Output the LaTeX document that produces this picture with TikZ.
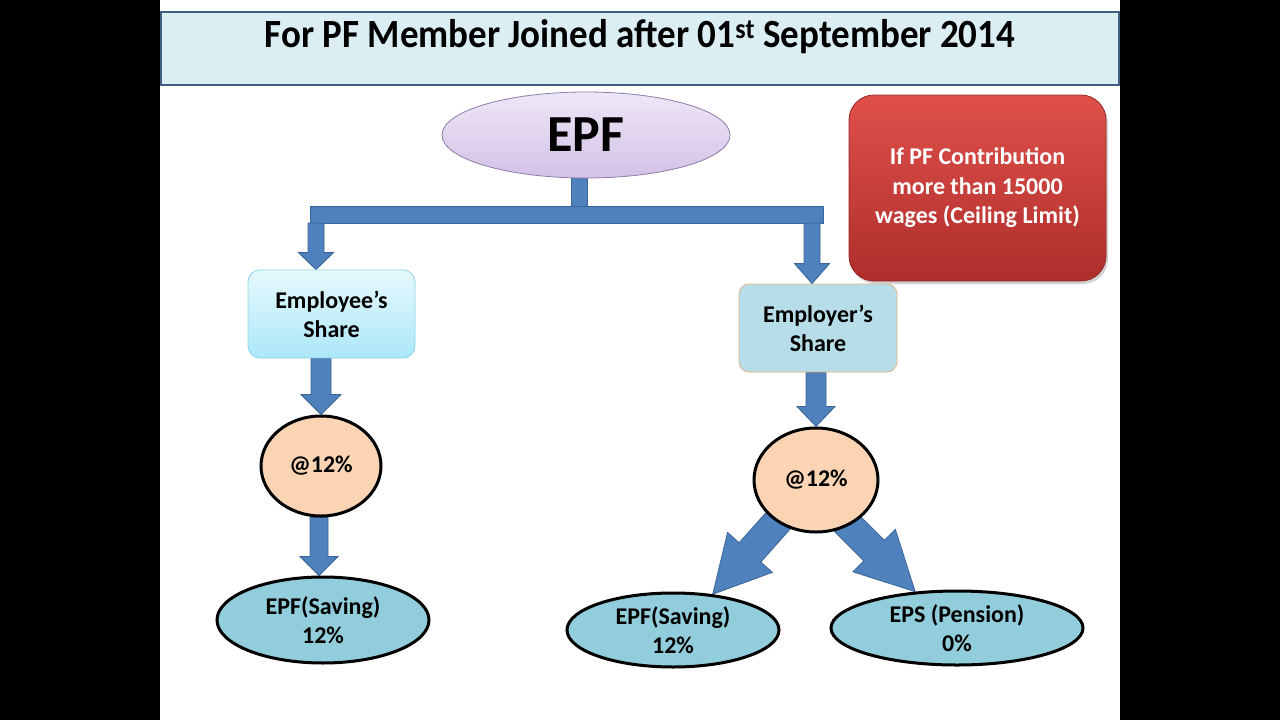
\documentclass[tikz,border=0pt]{standalone}
\usepackage{fontspec}
\setmainfont{Carlito}
\usetikzlibrary{shapes.geometric,calc,shadows}
\pgfdeclarelayer{bg}
\pgfdeclarelayer{canvas}
\pgfsetlayers{canvas,bg,main}
\definecolor{titlefill}{HTML}{DBEEF4}
\definecolor{titledraw}{HTML}{3E5F7E}
\definecolor{arrowblue}{HTML}{4F81BD}
\definecolor{arrowedge}{HTML}{3A6598}
\definecolor{epftop}{HTML}{EEE7F7}
\definecolor{epfbot}{HTML}{D3C1E7}
\definecolor{epfdraw}{HTML}{8E7CAA}
\definecolor{eetop}{HTML}{E6F9FD}
\definecolor{eebot}{HTML}{ACE7F8}
\definecolor{eedraw}{HTML}{8AD3EA}
\definecolor{erfill}{HTML}{B7DEE8}
\definecolor{erdraw}{HTML}{E2B48A}
\definecolor{peach}{HTML}{FBD4B4}
\definecolor{savefill}{HTML}{92CDDC}
\definecolor{redtop}{HTML}{E0504A}
\definecolor{redbot}{HTML}{AE2E2C}
\tikzset{
  blockarrowstyle/.style={fill=arrowblue, draw=arrowedge, line width=0.8pt, line join=miter},
  titlebox/.style={rectangle, fill=titlefill, draw=titledraw, line width=2pt, inner sep=0pt},
  epfnode/.style={ellipse, top color=epftop, bottom color=epfbot, draw=epfdraw, line width=0.8pt, inner sep=0pt},
  eebox/.style={rectangle, rounded corners=12pt, top color=eetop, bottom color=eebot, draw=eedraw, line width=0.8pt, inner sep=0pt, align=center},
  erbox/.style={rectangle, rounded corners=10pt, fill=erfill, draw=erdraw, line width=0.8pt, inner sep=0pt, align=center},
  pctnode/.style={ellipse, fill=peach, draw=black, line width=3pt, inner sep=0pt},
  savenode/.style={ellipse, fill=savefill, draw=black, line width=3pt, inner sep=0pt, align=center},
  redbox/.style={rectangle, rounded corners=25pt, top color=redtop, bottom color=redbot, draw=redbot!85!black, line width=0.8pt, inner sep=0pt, align=center, text=white, drop shadow={shadow xshift=2pt, shadow yshift=-3pt, opacity=0.35}},
  txt/.style={font=\bfseries\fontsize{24}{29}\selectfont},
}
% #1 from, #2 to, #3 half shaft width, #4 half head width, #5 head length, #6 name
\newcommand\blockarrow[6]{%
  \coordinate (#6-s) at #1;
  \coordinate (#6-t) at #2;
  \coordinate (#6-h) at ($(#6-t)!#5!(#6-s)$);
  \draw[blockarrowstyle] ($(#6-s)!#3!90:(#6-t)$) -- ($(#6-h)!#3!90:(#6-t)$) -- ($(#6-h)!#4!90:(#6-t)$) -- (#6-t) -- ($(#6-h)!#4!-90:(#6-t)$) -- ($(#6-h)!#3!-90:(#6-t)$) -- ($(#6-s)!#3!-90:(#6-t)$) -- cycle;
}
\begin{document}
\begin{tikzpicture}[x=1pt,y=-1pt]
\useasboundingbox (0,0) rectangle (1280,720);
\begin{pgfonlayer}{canvas}
\fill[white] (0,0) rectangle (1280,720);
\fill[black] (0,0) rectangle (160,720);
\fill[black] (1120,0) rectangle (1280,720);
\end{pgfonlayer}

% title
\node[titlebox, minimum width=958pt, minimum height=73pt] (title) at (639.5,48.5) {};
\node[font=\bfseries\fontsize{40}{44}\selectfont, inner sep=0pt] (titletext) at (640,37) {\scalebox{0.925}[1]{For PF Member Joined after 01\textsuperscript{st} September 2014}};

% EPF
\node[epfnode, minimum width=288pt, minimum height=86pt, font=\bfseries\fontsize{52}{56}\selectfont] (epf) at (586,135) {EPF};

% red note
\node[redbox, minimum width=257pt, minimum height=186pt, font=\bfseries\fontsize{24}{29.5}\selectfont] (note) at (977.5,188) {If PF Contribution\\more than 15000\\wages (Ceiling Limit)};

% shares
\node[eebox, minimum width=167pt, minimum height=88pt, txt] (ee) at (331.5,314) {Employee’s\\Share};
\node[erbox, minimum width=158pt, minimum height=88pt, txt] (er) at (818,328) {Employer’s\\Share};

% percentage circles
\node[pctnode, minimum width=120pt, minimum height=100pt, txt] (c1) at (321,466) {@12\%};
\node[pctnode, minimum width=124pt, minimum height=104pt, txt] (c2) at (816,480) {@12\%};

% results
\node[savenode, minimum width=212pt, minimum height=86pt, txt] (sv1) at (323,620) {EPF(Saving)\\12\%};
\node[savenode, minimum width=212pt, minimum height=74pt, txt] (sv2) at (673,630) {EPF(Saving)\\12\%};
\node[savenode, minimum width=252pt, minimum height=74pt, txt] (eps) at (957,628) {EPS (Pension)\\0\%};

% connectors
\begin{pgfonlayer}{bg}
  \coordinate (barL) at (310,206);
  \coordinate (barR) at (823,223);
  \draw[blockarrowstyle] ($(epf.south)+(-15,-4)$) rectangle ($(epf.south)+(1,30)$);
  \draw[blockarrowstyle] (barL) rectangle (barR);
  \blockarrow{(316,223)}{(ee.north -| 316,0)}{8pt}{17.5pt}{17pt}{a1}
  \blockarrow{(812,223)}{(er.north -| 812,0)}{8pt}{17.5pt}{20pt}{a2}
  \blockarrow{(ee.south -| c1)}{(c1.north)}{10pt}{20pt}{20pt}{a3}
  \blockarrow{(c1.south -| 319,0)}{(sv1.north -| 319,0)}{9pt}{19pt}{19pt}{a4}
  \blockarrow{(er.south -| c2)}{(c2.north)}{10pt}{19pt}{20pt}{a5}
  \blockarrow{($(c2.center)!0.9!(c2.227)$)}{(sv2.42)}{14.5pt}{30pt}{56pt}{a6}
  \blockarrow{($(c2.center)!0.9!(c2.305)$)}{(eps.139)}{14.5pt}{30pt}{58pt}{a7}
\end{pgfonlayer}
\end{tikzpicture}
\end{document}
